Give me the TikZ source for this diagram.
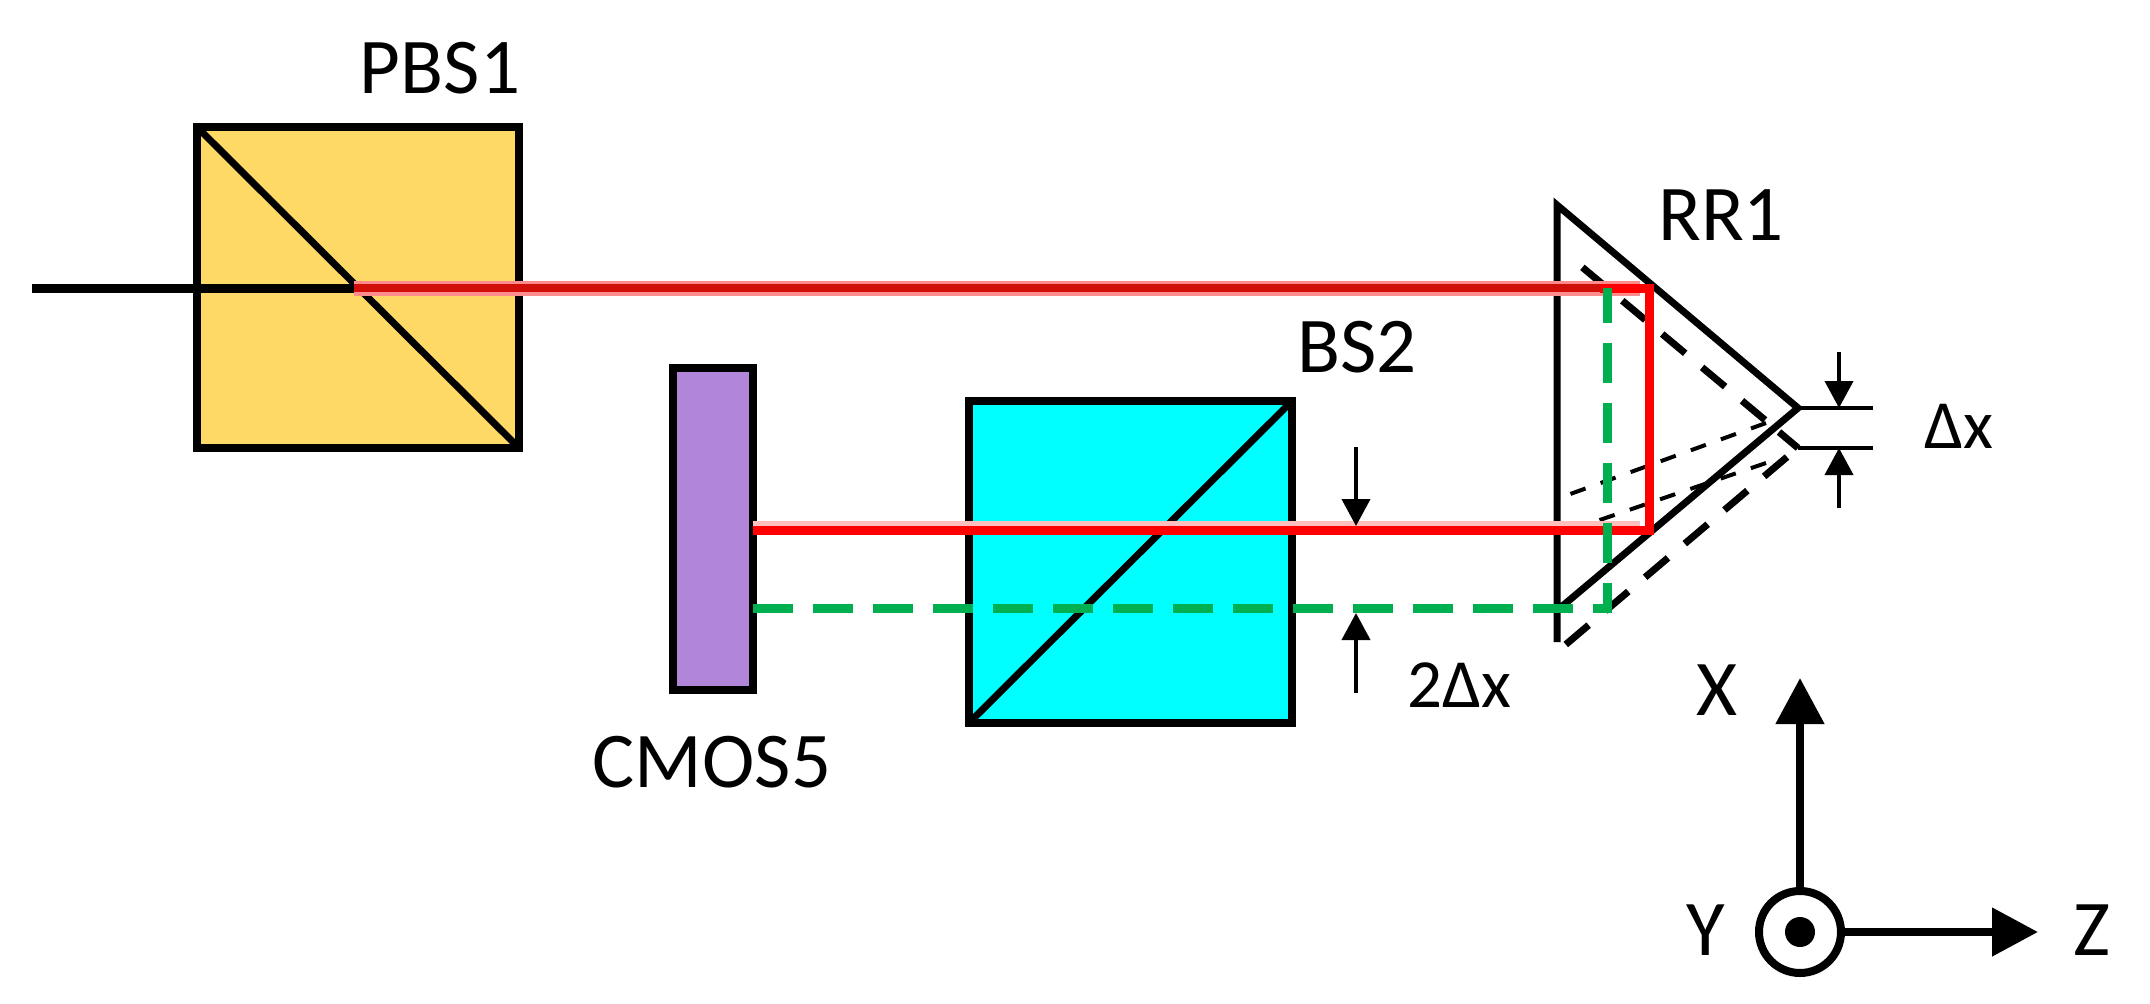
\documentclass[tikz,border=0pt]{standalone}
\usepackage{fontspec}
\setmainfont{Carlito}
\usetikzlibrary{arrows.meta}
\definecolor{pbsfill}{HTML}{FFD966}
\definecolor{cmosfill}{HTML}{B085DA}
\definecolor{bsfill}{HTML}{00FFFF}
\definecolor{beamred}{HTML}{FF0000}
\definecolor{beamdark}{HTML}{D01008}
\definecolor{beamgreen}{HTML}{00B050}
\tikzset{
  x=1pt,y=-1pt,
  cube/.style={draw=black,line width=8pt,inner sep=0pt,outer sep=0pt,rectangle},
  mirror/.style={draw=black,line width=7pt},
  lbl/.style={inner sep=0pt,outer sep=0pt,anchor=base,font=\fontsize{79}{81}\selectfont},
  dimlbl/.style={inner sep=0pt,outer sep=0pt,anchor=base,font=\fontsize{69}{71}\selectfont},
  prism/.style={draw=black,line width=7pt,line join=miter},
  prismdash/.style={draw=black,line width=7pt,dash pattern=on 30pt off 22pt},
  ridge/.style={draw=black,line width=4pt,dash pattern=on 16pt off 16pt},
  redbeam/.style={draw=beamred,line width=9pt,line join=miter},
  greenbeam/.style={draw=beamgreen,line width=9pt,dash pattern=on 40pt off 20pt},
  dimline/.style={draw=black,line width=4pt},
  dimarrow/.style={draw=black,line width=4pt,-{Triangle[length=27pt,width=28pt]}},
  axis/.style={draw=black,line width=8pt,-{Triangle[length=46pt,width=47pt]}},
}
\begin{document}
\begin{tikzpicture}
\useasboundingbox (0,0) rectangle (2150,1004);
% components
\node[cube,fill=pbsfill,minimum width=322pt,minimum height=321pt] (pbs) at (358,287.5) {};
\node[cube,fill=cmosfill,minimum width=80pt,minimum height=322pt] (cmos) at (712.5,529) {};
\node[cube,fill=bsfill,minimum width=323pt,minimum height=322pt] (bs) at (1130.5,562) {};
\draw[mirror] (pbs.north west) -- (pbs.south east);
\draw[mirror] (bs.south west) -- (bs.north east);
% key points
\coordinate (start) at (32,288);
\coordinate (split) at (354,288);
\coordinate (rt) at (1649,288);
\coordinate (rb) at (1649,530);
\coordinate (gc) at (1607,608);
\coordinate (gt) at (1607,288);
\coordinate (camr) at (cmos.east |- rb);
\coordinate (camg) at (cmos.east |- gc);
% prism, solid position
\coordinate (pt) at (1557,205);
\coordinate (pb) at (1557,642);
\coordinate (apex) at (1798,408);
\coordinate (plow) at (1560,608);
\draw[prism] (pb) -- (pt) -- (apex) -- (plow);
% prism, displaced position
\coordinate (dapex) at (1798,448);
\coordinate (dtop) at (1576,262);
\coordinate (dbot) at (1564,646);
\draw[prism] (dapex) -- (1779,432);
\draw[prismdash] (1765,420) -- (dtop);
\draw[prismdash] (1787,457) -- (dbot);
\draw[ridge] (1766,423) -- (1562,497);
\draw[ridge] (1766,463) -- (1591,523);
% beams
\draw[draw=beamred!45,line width=15pt] (split) -- (1640,288);
\draw[draw=beamdark,line width=8pt] (split) -- (rt);
\draw[redbeam] (1600,288) -- (rt) -- (rb) -- (camr);
\draw[draw=beamred!25,line width=5pt] ([yshift=6.5pt]camr) -- ([yshift=6.5pt]1640,530);
\draw[draw=black,line width=9pt] (start) -- (split);
\draw[greenbeam] (camg) -- (gc) -- (gt);
% dimension marks
\coordinate (dx1e) at (1873,408);
\coordinate (dx2e) at (1873,448);
\draw[dimline] (apex) -- (dx1e);
\draw[dimline] (dapex) -- (dx2e);
\coordinate (a1s) at (1839,352);
\coordinate (a1e) at (1839,408);
\coordinate (a2s) at (1839,508);
\coordinate (a2e) at (1839,448);
\draw[dimarrow] (a1s) -- (a1e);
\draw[dimarrow] (a2s) -- (a2e);
\coordinate (b1s) at (1356,447);
\coordinate (b1e) at (1356,526);
\coordinate (b2s) at (1356,693);
\coordinate (b2e) at (1356,613);
\draw[dimarrow] (b1s) -- (b1e);
\draw[dimarrow] (b2s) -- (b2e);
% axes
\node[draw=black,line width=8pt,circle,minimum size=82pt,inner sep=0pt,outer sep=4pt] (yc) at (1800,932) {};
\node[fill=black,circle,minimum size=30pt,inner sep=0pt] (yd) at (yc.center) {};
\coordinate (xt) at (1800,678);
\coordinate (zt) at (2038,932);
\draw[axis] (yc) -- (xt);
\draw[axis] (yc) -- (zt);
% labels
\node[lbl] (lp) at (440,93) {PBS1};
\node[lbl] (lr) at (1721,240) {RR1};
\node[lbl] (lb) at (1357,372) {BS2};
\node[lbl] (lc) at (712,787) {CMOS5};
\node[lbl] (lx) at (1717,715) {X};
\node[lbl] (ly) at (1706,955) {Y};
\node[lbl] (lz) at (2092,955) {Z};
\node[dimlbl] (ldx) at (1959,448) {Δx};
\node[dimlbl] (l2dx) at (1459,707) {2Δx};
\end{tikzpicture}
\end{document}
